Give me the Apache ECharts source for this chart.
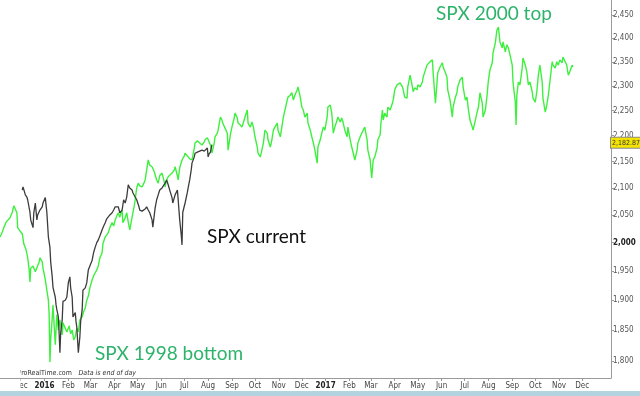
<!DOCTYPE html>
<html><head><meta charset="utf-8">
<script src="https://cdn.jsdelivr.net/npm/echarts@6/dist/echarts.min.js"></script>
<style>html,body{margin:0;padding:0;background:#fff}#c{width:640px;height:396px}</style>
</head><body><div id="c"></div>
<script>
// x values are calendar days counted from START_DATE
const START_DATE = Date.UTC(2015, 10, 4);
const DAY = 864e5;
const X_END_DAY = 795.6;
const Y_RANGE = [1772.7, 2483];

// SPX 1998-2000 overlay (green)
const greenSeries = [[0,2010],[3,2019],[5,2027],[8,2037],[10,2034],[13,2045],[16,2055],[18,2067],[20,2068],[22,2054],[23,2027],[26,2021],[29,2016],[31,1998],[34,1987],[36,1974],[38,1952],[39,1931],[40,1955],[43,1959],[46,1949],[48,1952],[51,1966],[52,1973],[55,1966],[56,1955],[59,1935],[61,1917],[63,1900],[64,1876],[65,1798],[66,1834],[68,1870],[69,1892],[72,1826],[74,1876],[76,1850],[78,1867],[81,1842],[82,1862],[85,1853],[87,1847],[90,1857],[92,1844],[94,1850],[96,1834],[98,1839],[100,1853],[102,1847],[104,1867],[107,1872],[109,1881],[111,1887],[113,1900],[115,1907],[117,1921],[120,1935],[122,1942],[124,1947],[126,1952],[128,1959],[130,1973],[133,1982],[134,1998],[137,2010],[139,2012],[141,2018],[143,2027],[146,2036],[148,2030],[150,2041],[152,2048],[154,2054],[156,2046],[159,2059],[160,2036],[163,2045],[165,2054],[167,2037],[169,2023],[172,2046],[175,2068],[176,2078],[178,2100],[180,2109],[182,2104],[185,2102],[188,2111],[189,2115],[191,2134],[193,2153],[195,2143],[198,2140],[201,2130],[202,2128],[204,2115],[206,2109],[208,2123],[211,2128],[214,2111],[215,2102],[217,2115],[219,2121],[221,2124],[224,2128],[227,2134],[228,2140],[231,2123],[232,2115],[234,2138],[237,2153],[240,2161],[241,2166],[244,2161],[245,2159],[247,2155],[250,2153],[253,2176],[254,2186],[257,2190],[258,2192],[260,2186],[263,2182],[266,2188],[267,2192],[270,2196],[271,2198],[274,2182],[276,2166],[279,2186],[280,2198],[283,2205],[284,2211],[287,2237],[289,2231],[290,2225],[293,2215],[296,2205],[297,2172],[300,2202],[302,2217],[305,2235],[306,2245],[309,2235],[310,2225],[313,2221],[315,2217],[318,2231],[319,2237],[322,2251],[323,2225],[326,2217],[328,2227],[330,2217],[332,2198],[335,2178],[336,2166],[339,2159],[341,2172],[343,2186],[345,2211],[348,2205],[349,2192],[352,2178],[354,2192],[356,2211],[358,2217],[361,2225],[362,2211],[365,2198],[367,2217],[369,2237],[371,2251],[374,2271],[375,2277],[378,2281],[380,2286],[382,2271],[384,2281],[387,2292],[388,2298],[391,2277],[393,2257],[395,2251],[397,2237],[400,2245],[401,2225],[404,2211],[406,2198],[408,2186],[410,2172],[413,2147],[414,2178],[417,2192],[419,2205],[421,2217],[423,2211],[426,2237],[427,2257],[430,2261],[432,2245],[434,2205],[436,2217],[439,2231],[440,2237],[443,2227],[445,2235],[447,2225],[449,2211],[452,2198],[453,2217],[456,2192],[458,2178],[460,2166],[462,2153],[465,2172],[466,2186],[469,2198],[471,2205],[473,2211],[475,2217],[478,2192],[479,2172],[482,2153],[484,2119],[486,2153],[488,2159],[491,2176],[492,2192],[495,2202],[496,2225],[498,2251],[499,2231],[501,2245],[504,2237],[505,2257],[508,2251],[511,2265],[512,2271],[514,2292],[517,2302],[518,2304],[521,2306],[524,2298],[525,2292],[527,2277],[530,2275],[531,2298],[534,2322],[537,2298],[538,2288],[540,2296],[543,2292],[544,2302],[547,2298],[550,2308],[551,2318],[554,2333],[556,2343],[557,2339],[560,2350],[563,2354],[564,2327],[567,2265],[569,2306],[570,2327],[573,2339],[576,2348],[577,2339],[580,2327],[582,2318],[583,2292],[586,2271],[589,2237],[590,2257],[593,2277],[595,2286],[596,2298],[599,2312],[602,2318],[603,2298],[606,2271],[608,2277],[610,2251],[612,2231],[615,2217],[616,2211],[619,2231],[621,2245],[623,2257],[625,2286],[628,2265],[629,2237],[632,2251],[634,2277],[636,2312],[638,2333],[641,2348],[642,2369],[645,2390],[647,2417],[649,2424],[651,2392],[654,2379],[655,2392],[658,2371],[660,2386],[662,2379],[664,2365],[667,2343],[668,2308],[671,2267],[672,2221],[673,2281],[675,2308],[677,2302],[680,2337],[681,2358],[684,2343],[686,2329],[688,2302],[690,2308],[693,2288],[694,2275],[697,2267],[699,2288],[701,2322],[703,2343],[706,2308],[707,2275],[710,2247],[712,2261],[714,2281],[716,2308],[719,2350],[720,2343],[723,2337],[725,2350],[727,2343],[729,2354],[732,2348],[733,2360],[736,2350],[738,2343],[740,2322],[742,2329],[745,2343],[746,2339]];

// SPX current (black)
const blackSeries = [[29,2096],[30,2102],[33,2087],[35,2083],[36,2078],[39,2055],[40,2041],[43,2027],[44,2054],[46,2072],[48,2041],[49,2050],[52,2059],[55,2065],[56,2072],[59,2082],[60,2068],[61,2055],[63,2010],[65,1992],[66,1966],[68,1940],[69,1922],[72,1905],[73,1892],[74,1884],[76,1872],[77,1845],[78,1813],[79,1845],[81,1867],[82,1898],[85,1900],[87,1905],[89,1930],[91,1940],[92,1921],[94,1905],[95,1872],[98,1879],[99,1864],[100,1855],[102,1813],[103,1826],[104,1839],[105,1864],[107,1884],[108,1917],[111,1921],[113,1930],[115,1952],[117,1959],[120,1969],[122,1983],[124,1992],[126,2000],[128,2005],[130,2012],[133,2023],[135,2030],[137,2036],[139,2043],[141,2046],[143,2050],[146,2054],[148,2059],[150,2065],[152,2068],[154,2065],[156,2054],[159,2059],[161,2078],[163,2072],[165,2083],[167,2106],[169,2100],[172,2096],[173,2091],[176,2083],[178,2078],[181,2065],[182,2059],[185,2057],[186,2054],[189,2061],[191,2065],[193,2059],[195,2054],[198,2041],[199,2028],[202,2063],[204,2078],[206,2087],[208,2096],[211,2100],[212,2102],[215,2109],[217,2115],[219,2106],[221,2096],[224,2082],[225,2072],[228,2087],[231,2096],[232,2078],[234,2041],[236,2014],[237,1996],[238,2055],[241,2072],[244,2092],[245,2100],[247,2115],[249,2134],[250,2147],[253,2159],[254,2166],[257,2168],[258,2168],[260,2170],[263,2172],[266,2170],[267,2168],[270,2176],[271,2159],[272,2164],[274,2168],[276,2182.87]];

const monthTicks = ['2015-12-01','2016-01-01','2016-02-01','2016-03-01','2016-04-01','2016-05-01','2016-06-01','2016-07-01','2016-08-01','2016-09-01','2016-10-01','2016-11-01','2016-12-01','2017-01-01','2017-02-01','2017-03-01','2017-04-01','2017-05-01','2017-06-01','2017-07-01','2017-08-01','2017-09-01','2017-10-01','2017-11-01','2017-12-01'];
const monthNames = ['Jan','Feb','Mar','Apr','May','Jun','Jul','Aug','Sep','Oct','Nov','Dec'];
const priceTicks = [1800,1850,1900,1950,2000,2050,2100,2150,2200,2250,2300,2350,2400,2450];
const lastPrice = 2182.87;

const toPoint = ([d, v]) => [START_DATE + d * DAY, Math.log(v)];
const monthVals = monthTicks.map(s => Date.parse(s + 'T00:00:00Z'));
const priceVals = priceTicks.map(v => Math.log(v));
const smallFont = "'Liberation Sans Narrow','DejaVu Sans Condensed','Arial Narrow',sans-serif";
const bigFont = "Lato, 'Open Sans', sans-serif";

const chart = echarts.init(document.getElementById('c'), null, {renderer: 'canvas'});
chart.setOption({
  animation: false,
  backgroundColor: '#ffffff',
  grid: {left: 0, right: 29, top: 0, bottom: 18, containLabel: false, outerBoundsMode: 'none'},
  xAxis: {
    type: 'value',
    min: START_DATE,
    max: START_DATE + X_END_DAY * DAY,
    axisLine: {show: true, lineStyle: {color: '#9a9a9a', width: 1}},
    axisTick: {show: true, customValues: monthVals, length: 3, lineStyle: {color: '#9a9a9a'}},
    splitLine: {show: false},
    axisLabel: {
      customValues: monthVals, margin: 4, fontSize: 8, color: '#444', fontFamily: smallFont,
      formatter: v => { const d = new Date(v); const m = d.getUTCMonth(); return m === 0 ? '{yr|' + d.getUTCFullYear() + '}' : monthNames[m]; },
      rich: {yr: {fontWeight: 'bold', fontSize: 8, color: '#222', fontFamily: smallFont}}
    }
  },
  yAxis: {
    type: 'value',
    position: 'right',
    min: Math.log(Y_RANGE[0]),
    max: Math.log(Y_RANGE[1]),
    axisLine: {show: true, lineStyle: {color: '#9a9a9a', width: 1}},
    axisTick: {show: true, customValues: priceVals, length: 3, lineStyle: {color: '#9a9a9a'}},
    splitLine: {show: false},
    axisLabel: {
      customValues: priceVals, margin: 2, fontSize: 8, color: '#555', fontFamily: smallFont,
      formatter: v => { const p = Math.round(Math.exp(v)); const s = p.toLocaleString('en-US'); return p === 2000 ? '{b|' + s + '}' : s; },
      rich: {b: {fontWeight: 'bold', fontSize: 8, color: '#222', fontFamily: smallFont}}
    }
  },
  series: [
    {
      name: 'SPX 1998-2000', type: 'line', data: greenSeries.map(toPoint),
      showSymbol: false, symbol: 'none', sampling: null,
      lineStyle: {color: '#3ef03e', width: 1.4}, z: 2
    },
    {
      name: 'SPX current', type: 'line', data: blackSeries.map(toPoint),
      showSymbol: false, symbol: 'none',
      lineStyle: {color: '#3c3c3c', width: 1.3}, z: 3,
      markLine: {
        silent: true, symbol: ['none', 'none'],
        lineStyle: {color: 'rgba(0,0,0,0)', width: 1, type: 'solid'},
        data: [{yAxis: Math.log(lastPrice)}],
        label: {
          show: true, position: 'end', distance: 0,
          formatter: lastPrice.toLocaleString('en-US', {minimumFractionDigits: 2}),
          backgroundColor: '#f4e300', borderColor: '#8a8a8a', borderWidth: 1,
          padding: [2, 1, 1, 1], fontSize: 7, color: '#333', fontFamily: smallFont
        }
      }
    }
  ],
  graphic: [
    {type: 'text', z: 10, style: {x: 436, y: 14, text: 'SPX 2000 top', font: '19px ' + bigFont, fill: '#2eb36b', verticalAlign: 'middle'}},
    {type: 'text', z: 10, style: {x: 207, y: 237, text: 'SPX current', font: '19px ' + bigFont, fill: '#111111', verticalAlign: 'middle'}},
    {type: 'text', z: 10, style: {x: 95, y: 354, text: 'SPX 1998 bottom', font: '19px ' + bigFont, fill: '#2eb36b', verticalAlign: 'middle'}},
    {type: 'text', z: 10, style: {x: 17.5, y: 373, text: '{n|ProRealTime.com}  {i|Data is end of day}', verticalAlign: 'middle',
      rich: {n: {fontSize: 7, fill: '#333', fontFamily: smallFont}, i: {fontSize: 7, fill: '#333', fontStyle: 'italic', fontFamily: smallFont}}}},
    {type: 'rect', z: 20, shape: {x: 0, y: 366, width: 20.5, height: 11}, style: {fill: '#ffffff'}},
    {type: 'rect', z: 20, shape: {x: 0, y: 379, width: 20.5, height: 12}, style: {fill: '#ffffff'}},
    {type: 'rect', z: 20, shape: {x: 0, y: 391, width: 640, height: 5}, style: {fill: '#b3d4df'}}
  ]
});
</script>
</body></html>
